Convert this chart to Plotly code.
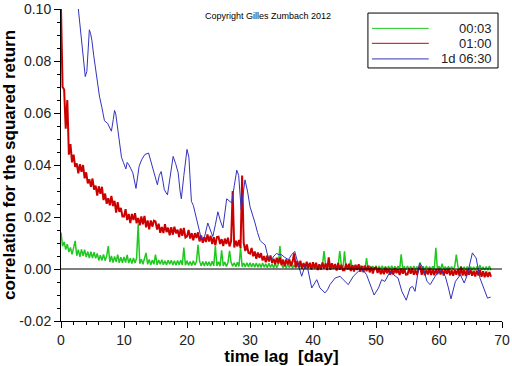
import numpy as np
import plotly.graph_objects as go

# ---------------- data (values in units of 1e-4) ----------------
lag_step = 0.25  # days between samples of the 00:03 and 01:00 series

red_vals = [
    1000, 700, 690, 540, 650, 440, 480, 410, 440, 393, 406, 368, 403, 374, 400, 349, 372, 329, 345, 316,
    348, 305, 321, 282, 318, 289, 316, 265, 290, 251, 272, 245, 281, 242, 262, 217, 257, 220, 235, 202,
    202, 230, 188, 212, 177, 212, 188, 215, 176, 196, 168, 202, 172, 204, 160, 187, 153, 187, 163, 186,
    183, 152, 174, 139, 162, 138, 172, 142, 159, 130, 161, 132, 163, 137, 151, 123, 156, 128, 158, 121,
    125, 150, 117, 138, 110, 138, 119, 141, 106, 129, 101, 123, 104, 133, 106, 128, 96, 122, 91, 123,
    124, 96, 115, 88, 117, 96, 120, 87, 106, 300, 83, 109, 87, 112, 81, 360, 100, 69, 94, 62,
    59, 81, 49, 67, 39, 63, 43, 61, 33, 50, 26, 52, 29, 52, 24, 39, 18, 43, 21, 44,
    15, 36, 11, 37, 17, 37, 11, 27, 60, 7, 31, 8, 32, 2, 23, 3, 28, 4, 24, -2,
    26, 3, 24, -4, 18, -2, 25, 2, 21, -4, 45, -3, 22, 2, 19, -6, 23, -3, 16, -5,
    -5, 20, -2, 20, -8, 14, -10, 16, -4, 18, -10, 12, -13, 13, -9, 13, -13, 9, -17, 4,
    6, -15, 4, -20, -2, -20, 5, -16, 1, -22, -1, -21, 3, -16, -1, -23, 2, -18, 0, -22,
    -21, 2, -18, 3, -22, -3, -23, 1, 10, -22, 0, -24, -3, -21, 2, -23, -2, -24, 0, -20,
    1, -21, -2, -25, -1, -19, 1, -24, -5, -26, -3, -22, -1, -26, 8, -25, -4, -27, -2, -22,
    -3, -26, -7, -29, -6, -25, -5, -30, -9, -32, -10, -31, -12, -30,
]

green_vals = [
    140, 88, 104, 75, 96, 65, 83, 56, 81, 108, 51, 74, 47, 75, 51, 74, 46, 67, 42, 67,
    42, 65, 41, 60, 33, 53, 33, 56, 32, 50, 88, 27, 50, 25, 48, 28, 55, 24, 45, 24,
    46, 25, 54, 23, 41, 21, 42, 23, 42, 172, 20, 38, 18, 39, 62, 18, 37, 16, 35, 18,
    55, 16, 35, 18, 36, 16, 32, 15, 34, 18, 34, 15, 32, 14, 33, 16, 34, 15, 82, 14,
    32, 14, 29, 13, 32, 15, 29, 93, 30, 12, 29, 12, 29, 13, 28, 11, 30, 12, 88, 12,
    28, 11, 72, 12, 27, 10, 25, 70, 26, 11, 24, 9, 26, 10, 82, 9, 23, 8, 24, 9,
    24, 8, 22, 7, 23, 7, 21, 6, 23, 7, 20, 5, 22, 6, 20, 4, 21, 5, 19, 88,
    19, 5, 17, 4, 19, 5, 30, 3, 16, 4, 18, 3, 16, 2, 17, 3, 15, 2, 17, 2,
    16, 2, 14, 1, 16, 2, 14, 69, 15, 1, 16, 0, 13, 1, 15, 0, 14, 69, 13, 0,
    68, 1, 12, -1, 36, 0, 13, -2, 12, 0, 13, -2, 11, -1, 42, -2, 12, -1, 11, -2,
    12, -3, 11, -2, 12, -3, 10, -2, 11, -3, 12, -3, 10, -2, 11, -3, 56, -2, 10, -3,
    11, -3, 10, -4, 11, -3, 9, -4, 25, -3, 10, -4, 11, -3, 9, -4, 10, -3, 82, -4,
    10, -3, 20, -4, 9, -3, 10, -4, 9, -3, 10, 55, 9, -4, 10, -5, 8, -4, 9, -5,
    9, -4, 8, -5, 9, -4, 15, -5, 8, -4, 9, -5, 12, -5,
]

blue_lag = [
    2.5, 2.7, 3.0, 3.3, 3.6, 3.85, 4.1, 4.3, 4.5, 4.7, 4.9, 5.2, 5.6, 6.1, 6.5, 6.9, 7.4, 7.7, 8.0, 8.3,
    8.5, 8.7, 8.9, 9.25, 9.6, 9.9, 10.3, 10.5, 10.8, 11.1, 11.4, 11.9, 12.4, 12.8, 13.3, 13.9, 14.2, 14.5, 15.0, 15.3,
    15.6, 15.9, 16.2, 16.4, 16.9, 17.3, 17.8, 18.2, 18.6, 18.9, 19.1, 19.5, 20.0, 20.3, 20.7, 21.0, 21.5, 22.0, 22.3, 22.8,
    23.3, 23.7, 24.1, 24.5, 24.9, 25.3, 25.7, 26.3, 26.7, 27.1, 27.5, 27.9, 28.2, 28.6, 29.2, 29.6, 30.0, 30.4, 30.8, 31.2,
    31.6, 32.0, 32.4, 32.9, 33.4, 33.8, 34.2, 34.6, 35.0, 35.5, 36.1, 36.6, 37.1, 37.6, 38.2, 38.7, 39.2, 39.8, 40.2, 40.6,
    41.1, 41.9, 42.3, 42.7, 43.5, 44.3, 44.8, 45.6, 46.4, 47.2, 47.5, 48.0, 48.5, 49.0, 49.7, 50.4, 50.9, 51.4, 52.2, 52.8,
    53.5, 54.1, 54.8, 55.4, 55.8, 56.2, 56.9, 57.5, 58.1, 58.6, 59.4, 60.2, 61.0, 61.5, 61.9, 62.6, 63.4, 64.0, 64.5, 65.3,
    65.9, 66.5, 67.3, 67.7, 68.2,
]
blue_vals = [
    1060, 1010, 940, 860, 780, 740, 760, 860, 920, 905, 880, 820, 745, 665, 620, 570, 560, 545, 530, 575,
    610, 595, 560, 500, 430, 410, 385, 410, 400, 385, 370, 310, 395, 420, 440, 446, 420, 390, 345, 324,
    360, 375, 335, 305, 285, 360, 433, 405, 370, 300, 270, 360, 460, 430, 260, 245, 195, 150, 113, 125,
    177, 150, 125, 170, 220, 185, 158, 270, 260, 254, 320, 380, 360, 228, 343, 300, 240, 210, 177, 140,
    110, 100, 93, 42, 36, 50, 60, 55, 55, 45, 36, 55, 68, 23, -28, 10, -3, -73, -55, -41,
    -73, -92, -80, -60, -35, -28, -41, -60, -28, -9, -9, -5, -22, -54, -100, -73, -41, -48, -12, -22,
    -35, -86, -120, -73, -67, -86, 23, 4, -48, -60, -28, -3, -28, -73, -115, -48, -22, -54, -22, 62,
    42, -35, -86, -112, -108,
]

series_names = ["00:03", "01:00", "1d 06:30"]
series_colors = ["#1fc81f", "#cc0000", "#3333bb"]

x_ticks = [0, 10, 20, 30, 40, 50, 60, 70]
x_ticktext = ["0", "10", "20", "30", "40", "50", "60", "70"]
y_ticks = [-0.02, 0.0, 0.02, 0.04, 0.06, 0.08, 0.10]
y_ticktext = ["-0.02", "0.00", "0.02", "0.04", "0.06", "0.08", "0.10"]

# ---------------- figure ----------------
scale = 1e-4
red_lag = np.arange(len(red_vals)) * lag_step
green_lag = np.arange(len(green_vals)) * lag_step

fig = go.Figure()
fig.add_trace(go.Scatter(x=green_lag, y=np.array(green_vals) * scale, mode="lines",
                         line=dict(color=series_colors[0], width=1.5), name=series_names[0]))
fig.add_trace(go.Scatter(x=red_lag, y=np.array(red_vals) * scale, mode="lines",
                         line=dict(color=series_colors[1], width=2), name=series_names[1]))
fig.add_trace(go.Scatter(x=blue_lag, y=np.array(blue_vals) * scale, mode="lines",
                         line=dict(color=series_colors[2], width=1), name=series_names[2]))

font_family = "Liberation Sans, Arial, sans-serif"
title_font = dict(size=17, family="Liberation Sans, Arial", weight="bold", color="black")

fig.update_layout(
    width=512, height=366,
    margin=dict(l=61, r=10, t=9, b=45),
    paper_bgcolor="white", plot_bgcolor="white",
    showlegend=False,
    font=dict(family=font_family, color="black"),
    xaxis=dict(
        range=[0, 70], tickmode="array", tickvals=x_ticks, ticktext=x_ticktext,
        showgrid=False, zeroline=False, showline=True, linecolor="black", linewidth=1,
        ticks="outside", ticklen=6, tickcolor="black", tickfont=dict(size=14, color="#222"),
        minor=dict(tickmode="linear", tick0=0, dtick=2, ticks="outside", ticklen=3, tickcolor="black"),
        title=dict(text="time lag\u00a0\u00a0[day]", font=title_font, standoff=1),
        automargin=False,
    ),
    yaxis=dict(
        range=[-0.02, 0.10], tickmode="array", tickvals=y_ticks, ticktext=y_ticktext,
        showgrid=False, zeroline=False, showline=True, linecolor="black", linewidth=1,
        ticks="outside", ticklen=6, tickcolor="black", tickfont=dict(size=14, color="#222"),
        minor=dict(tickmode="linear", tick0=0, dtick=0.005, ticks="outside", ticklen=3, tickcolor="black"),
        title=dict(text="correlation for the squared return", font=title_font, standoff=0),
        automargin=False,
    ),
)

# zero reference line on top of the data
fig.add_shape(type="line", xref="paper", yref="y", x0=0, x1=1, y0=0, y1=0,
              line=dict(color="black", width=1), layer="above")

# copyright note
fig.add_annotation(text="Copyright Gilles Zumbach 2012", xref="paper", yref="paper",
                   x=0.47, y=0.978, xanchor="center", yanchor="middle", showarrow=False,
                   font=dict(size=9, color="black"))

# hand-drawn legend box (lines left, labels right-aligned)
fig.add_shape(type="rect", xref="paper", yref="paper", x0=0.696, x1=0.991, y0=0.811, y1=0.987,
              line=dict(color="black", width=1), fillcolor="white", layer="above")
legend_rows = [0.938, 0.890, 0.840]
for name, col, yy in zip(series_names, series_colors, legend_rows):
    fig.add_shape(type="line", xref="paper", yref="paper", x0=0.705, x1=0.834, y0=yy, y1=yy,
                  line=dict(color=col, width=1), layer="above")
    fig.add_annotation(text=name, xref="paper", yref="paper", x=0.982, y=yy,
                       xanchor="right", yanchor="middle", showarrow=False,
                       font=dict(size=13, color="#222"))

fig.write_html("out.html", config={"displayModeBar": False},
               post_script="document.body.style.margin='0';document.body.style.overflow='hidden';")
